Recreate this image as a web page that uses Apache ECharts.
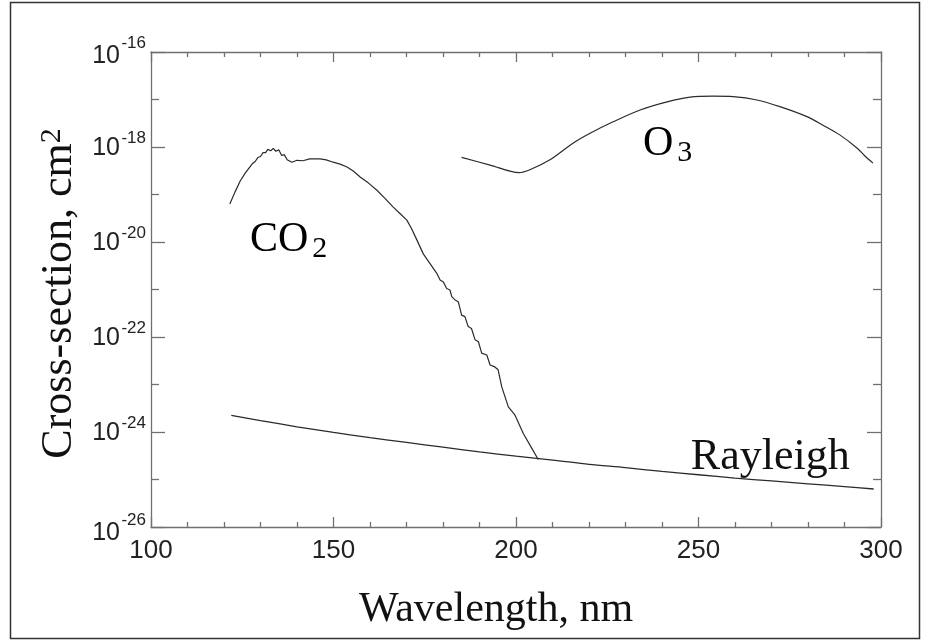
<!DOCTYPE html>
<html><head><meta charset="utf-8">
<script src="https://cdn.jsdelivr.net/npm/echarts@6/dist/echarts.min.js"></script>
<style>html,body{margin:0;padding:0;background:#fff}#c{width:930px;height:642px}</style>
</head><body><div id="c"></div>
<script>
// Wavelength (nm) and log10 of cross-section (cm^2)
const rayleighWl  = [122, 130, 140, 150, 160, 170, 180, 190, 200, 210, 220, 230, 240, 250, 260, 270, 280, 290, 298];
const rayleighLog = [-23.65, -23.76, -23.89, -24.01, -24.12, -24.22, -24.32, -24.42, -24.51, -24.59, -24.68, -24.75, -24.83, -24.90, -24.97, -25.03, -25.09, -25.15, -25.20];

const co2Wl  = [121.6, 123.0, 124.4, 125.8, 126.9, 127.9, 128.6, 129.3, 130.0, 130.7, 131.4, 132.0, 132.8, 133.5, 134.2, 135.0, 135.8, 136.5, 137.3, 138.6,
                140.0, 141.6, 143.5, 146.3, 148.0, 149.9, 151.8, 153.7, 155.5, 157.3, 159.6, 161.9, 164.1, 166.3, 168.2, 170.1, 171.4, 172.8, 174.6, 176.4,
                178.3, 179.2, 180.1, 181.0, 181.9, 182.4, 183.3, 184.2, 185.1, 186.0, 186.9, 187.8, 188.8, 189.7, 190.6, 192.0, 192.9, 194.2, 195.1, 196.1,
                197.9, 199.7, 202.0, 204.3, 206.1];
const co2Log = [-19.20, -18.95, -18.72, -18.55, -18.44, -18.34, -18.30, -18.22, -18.20, -18.12, -18.12, -18.05, -18.08, -18.03, -18.09, -18.06, -18.18, -18.16, -18.27, -18.32,
                -18.28, -18.29, -18.25, -18.25, -18.27, -18.32, -18.36, -18.42, -18.51, -18.63, -18.76, -18.91, -19.08, -19.26, -19.40, -19.54, -19.72, -19.95, -20.25, -20.45,
                -20.66, -20.80, -20.84, -20.98, -21.01, -21.15, -21.22, -21.26, -21.54, -21.57, -21.78, -21.82, -22.06, -22.10, -22.34, -22.38, -22.59, -22.63, -22.69, -23.05,
                -23.47, -23.64, -24.03, -24.34, -24.58];

const o3Wl  = [185.1, 192.9, 200.8, 203.8, 209.3, 215.6, 220.3, 226.6, 234.0, 241.4, 247.7, 254.0, 259.5, 266.0, 272.3, 279.7, 284.1, 288.8, 293.4, 295.6, 297.8];
const o3Log = [-18.22, -18.38, -18.54, -18.48, -18.27, -17.92, -17.71, -17.47, -17.22, -17.05, -16.95, -16.93, -16.94, -17.01, -17.15, -17.36, -17.54, -17.75, -18.02, -18.19, -18.34];

const xTicks = [100, 150, 200, 250, 300];
const yExponents = [-26, -24, -22, -20, -18, -16];

const serif = '"Liberation Serif","DejaVu Serif",serif';
const sans = '"Liberation Sans","Arimo",Arial,sans-serif';
const axisColor = '#707070';
const lineColor = '#2b2b2b';
const textColor = '#111';

function pairs(a, b) { return a.map((x, i) => [x, b[i]]); }

const chart = echarts.init(document.getElementById('c'), null, { renderer: 'canvas' });

const tickCommon = {
  axisLine: { show: true, lineStyle: { color: axisColor, width: 1.3 } },
  splitLine: { show: false },
  minorSplitLine: { show: false }
};

// y tick label: superscript on an upper line (right-aligned), "10" on the lower line
function yLabel(v) {
  if (v === yExponents[yExponents.length - 1]) return '{s|' + v + '}\n{bt|10}';
  if (v === yExponents[0]) return '{sb|' + v + '}\n{bb|10}';
  return '{s|' + v + '}\n{b|10}';
}
const bBase = { fontFamily: sans, fontSize: 25, lineHeight: 18, color: '#222' };
const sBase = { fontFamily: sans, fontSize: 17, lineHeight: 12, color: '#222' };

const option = {
  animation: false,
  backgroundColor: '#fff',
  grid: { left: 151, right: 49, top: 52, bottom: 115, containLabel: false },
  xAxis: [
    Object.assign({
      type: 'value', min: xTicks[0], max: xTicks[xTicks.length - 1], interval: 50, position: 'bottom',
      axisTick: { show: true, inside: true, length: 10, lineStyle: { color: axisColor, width: 1.3 } },
      minorTick: { show: true, splitNumber: 5, length: 5, lineStyle: { color: axisColor, width: 1.3 } },
      axisLabel: { margin: 11, fontFamily: sans, fontSize: 26, lineHeight: 26, color: '#222' },
      name: 'Wavelength, nm', nameLocation: 'middle', nameGap: 62,
      nameTextStyle: { fontFamily: serif, fontSize: 42, lineHeight: 42, color: textColor, padding: [0, 40, 0, 0] }
    }, tickCommon),
    Object.assign({
      type: 'value', min: xTicks[0], max: xTicks[xTicks.length - 1], interval: 50, position: 'top',
      axisTick: { show: true, inside: true, length: 10, lineStyle: { color: axisColor, width: 1.3 } },
      minorTick: { show: true, splitNumber: 5, length: 5, lineStyle: { color: axisColor, width: 1.3 } },
      axisLabel: { show: false }
    }, tickCommon)
  ],
  yAxis: [
    Object.assign({
      type: 'value', min: yExponents[0], max: yExponents[yExponents.length - 1], interval: 2, position: 'left',
      axisTick: { show: true, inside: true, length: 14, lineStyle: { color: axisColor, width: 1.3 } },
      minorTick: { show: true, splitNumber: 2, length: 8, lineStyle: { color: axisColor, width: 1.3 } },
      axisLabel: {
        margin: 5, color: '#222', align: 'right',
        formatter: yLabel,
        rich: {
          b: Object.assign({}, bBase, { padding: [0, 26, 9, 0] }),
          bt: Object.assign({}, bBase, { padding: [0, 26, 3, 0] }),
          bb: Object.assign({}, bBase, { padding: [0, 26, 0, 0] }),
          s: Object.assign({}, sBase),
          sb: Object.assign({}, sBase, { padding: [4, 0, 0, 0] })
        }
      },
      name: '{n|Cross-section, cm}{s|2}', nameLocation: 'middle', nameGap: 70, nameRotate: 90,
      nameMoveOverlap: false,
      nameTextStyle: {
        color: textColor, padding: [0, 8, 0, 0],
        rich: {
          n: { fontFamily: serif, fontSize: 44, lineHeight: 44, verticalAlign: 'bottom', color: textColor },
          s: { fontFamily: serif, fontSize: 30, lineHeight: 24, verticalAlign: 'top', padding: [0, 0, 24, 0], color: textColor }
        }
      }
    }, tickCommon),
    Object.assign({
      type: 'value', min: yExponents[0], max: yExponents[yExponents.length - 1], interval: 2, position: 'right',
      axisTick: { show: true, inside: true, length: 14, lineStyle: { color: axisColor, width: 1.3 } },
      minorTick: { show: true, splitNumber: 2, length: 8, lineStyle: { color: axisColor, width: 1.3 } },
      axisLabel: { show: false }
    }, tickCommon)
  ],
  series: [
    { name: 'Rayleigh', type: 'line', xAxisIndex: 0, yAxisIndex: 0, data: pairs(rayleighWl, rayleighLog),
      showSymbol: false, smooth: 0.3, lineStyle: { color: lineColor, width: 1.3 }, silent: true },
    { name: 'CO2', type: 'line', xAxisIndex: 0, yAxisIndex: 0, data: pairs(co2Wl, co2Log),
      showSymbol: false, smooth: false, lineStyle: { color: lineColor, width: 1.2 }, silent: true },
    { name: 'O3', type: 'line', xAxisIndex: 0, yAxisIndex: 0, data: pairs(o3Wl, o3Log),
      showSymbol: false, smooth: 0.3, lineStyle: { color: lineColor, width: 1.2 }, silent: true }
  ]
};
chart.setOption(option);

// Curve labels anchored in data coordinates (left edge, text baseline)
const subRich = {
  m: { fontFamily: serif, fontSize: 42, lineHeight: 42, verticalAlign: 'bottom', color: textColor },
  sub: { fontFamily: serif, fontSize: 30, lineHeight: 22, verticalAlign: 'top', padding: [15, 0, 0, 4], color: textColor }
};
const co2Pt = chart.convertToPixel({ gridIndex: 0 }, [127.1, -20.21]);
const o3Pt = chart.convertToPixel({ gridIndex: 0 }, [234.8, -18.19]);
const rayPt = chart.convertToPixel({ gridIndex: 0 }, [247.9, -24.76]);

chart.setOption({
  graphic: [
    { type: 'rect', shape: { x: 10.5, y: 2.5, width: 909, height: 636 }, style: { fill: 'none', stroke: '#333', lineWidth: 1.5 }, silent: true },
    { type: 'text', x: co2Pt[0], y: co2Pt[1] - 33.3, style: { text: '{m|CO}{sub|2}', rich: subRich, align: 'left', verticalAlign: 'top' } },
    { type: 'text', x: o3Pt[0], y: o3Pt[1] - 33.3, style: { text: '{m|O}{sub|3}', rich: subRich, align: 'left', verticalAlign: 'top' } },
    { type: 'text', x: rayPt[0], y: rayPt[1] - 33.1, style: { text: 'Rayleigh', font: '44px ' + serif, fill: textColor, align: 'left', verticalAlign: 'top' } }
  ]
});
</script>
</body></html>
